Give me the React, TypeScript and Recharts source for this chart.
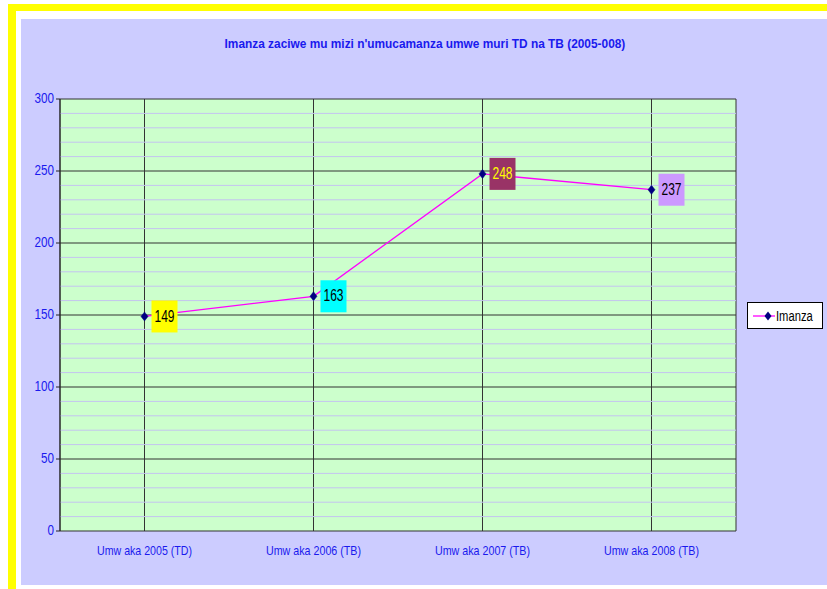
import React from 'react';
import { LineChart, Line, XAxis, YAxis, CartesianGrid, ReferenceLine, LabelList } from 'recharts';

const categories = ['Umw aka 2005 (TD)', 'Umw aka 2006 (TB)', 'Umw aka 2007 (TB)', 'Umw aka 2008 (TB)'];
const imanza = [149, 163, 248, 237];
const yTicks = [0, 50, 100, 150, 200, 250, 300];
const minorTicks = [10, 20, 30, 40, 60, 70, 80, 90, 110, 120, 130, 140, 160, 170, 180, 190, 210, 220, 230, 240, 260, 270, 280, 290];
const boundaryTicks = [0, 1, 2, 3, 4];
const title = "Imanza zaciwe mu mizi n'umucamanza umwe muri TD na TB (2005-008)";
const seriesName = 'Imanza';

const labelBg = ['#ffff00', '#00ffff', '#993366', '#cc99ff'];
const labelFg = ['#000000', '#000000', '#ffff00', '#000000'];

const data = categories.map((c, i) => ({ name: c, value: imanza[i] }));

const FONT = '"Liberation Sans", Arial, sans-serif';

const Diamond = (props: any) => {
  const { cx, cy } = props;
  if (cx == null || cy == null) return null;
  return <polygon points={`${cx},${cy - 4.5} ${cx + 3.5},${cy} ${cx},${cy + 4.5} ${cx - 3.5},${cy}`} fill="#000080" stroke="#000080" strokeWidth={0.5} />;
};

const ValueLabel = (props: any) => {
  const { x, y, value, index } = props;
  return (
    <g>
      <rect x={x + 7} y={y - 16} width={26} height={32} fill={labelBg[index]} />
      <text x={x + 20} y={y + 1} textAnchor="middle" dominantBaseline="middle" fontFamily={FONT} fontSize={16} fill={labelFg[index]} textLength={20} lengthAdjust="spacingAndGlyphs">
        {value}
      </text>
    </g>
  );
};

const XTick = (props: any) => {
  const { x, y, payload } = props;
  return (
    <text x={x} y={y + 16} textAnchor="middle" fontFamily={FONT} fontSize={13} fill="#1a1aee" textLength={95} lengthAdjust="spacingAndGlyphs">
      {payload.value}
    </text>
  );
};

const YTick = (props: any) => {
  const { x, y, payload } = props;
  return (
    <text x={x} y={y} textAnchor="end" dominantBaseline="middle" fontFamily={FONT} fontSize={14} fill="#1a1aee" textLength={String(payload.value).length * 6.5} lengthAdjust="spacingAndGlyphs">
      {payload.value}
    </text>
  );
};

const LegendBox = () => (
  <div style={{ position: 'absolute', left: 747, top: 302, width: 76, height: 27, border: '1px solid #000', background: '#fff', boxSizing: 'border-box', display: 'flex', alignItems: 'center', fontFamily: FONT, fontSize: 14 }}>
    <svg width={34} height={12} style={{ marginLeft: 4 }}>
      <line x1={1} y1={6} x2={31} y2={6} stroke="#ff00ff" strokeWidth={1.3} />
      <polygon points="16,1.5 19.5,6 16,10.5 12.5,6" fill="#000080" />
    </svg>
    <span style={{ marginLeft: 1, color: '#000', display: 'inline-block', transform: 'scaleX(0.8)', transformOrigin: 'left center' }}>{seriesName}</span>
  </div>
);

export default function App() {
  return (
    <div style={{ position: 'absolute', left: 0, top: 0, width: 827, height: 589, background: '#fff', overflow: 'hidden' }}>
      <div style={{ position: 'absolute', left: 8, top: 4, width: 900, height: 700, borderTop: '7px solid #ffff00', borderLeft: '8px solid #ffff00', background: '#fff' }} />
      <div style={{ position: 'absolute', left: 21, top: 19, width: 806, height: 566, background: '#ccccff' }} />
      <div style={{ position: 'absolute', left: 21, top: 37, width: 808, textAlign: 'center', fontFamily: FONT, fontWeight: 'bold', fontSize: 12.5, color: '#1a1aee' }}>
        <span style={{ display: 'inline-block', transform: 'scaleX(0.95)' }}>{title}</span>
      </div>
      <div style={{ position: 'absolute', left: 0, top: 0 }}>
        <LineChart width={827} height={589} data={data} margin={{ top: 99, right: 91, bottom: 28, left: 20 }}>
          <CartesianGrid fill="#ccffcc" stroke="#333333" horizontal={false} vertical={true} />
          {minorTicks.map((v) => (
            <ReferenceLine key={v} y={v} stroke="#c4c4f0" strokeWidth={1} />
          ))}
          <CartesianGrid fill="none" stroke="#333333" horizontal={true} vertical={false} />
          <XAxis xAxisId="b" type="number" domain={[0, 4]} ticks={boundaryTicks} height={0} axisLine={{ stroke: '#444444', strokeWidth: 2 }} tickLine={{ stroke: '#222' }} tickSize={5} tick={() => <g />} />
          <XAxis dataKey="name" scale="band" height={30} axisLine={false} tickLine={false} tick={<XTick />} interval={0} />
          <XAxis xAxisId="t" orientation="top" type="number" domain={[0, 1]} height={0} tick={false} tickLine={false} axisLine={{ stroke: '#888888' }} />
          <YAxis domain={[0, 300]} ticks={yTicks} width={40} axisLine={{ stroke: '#222222' }} tickLine={{ stroke: '#222222' }} tickSize={4} tick={<YTick />} interval={0} />
          <YAxis yAxisId="r" orientation="right" type="number" domain={[0, 1]} width={0} tick={false} tickLine={false} axisLine={{ stroke: '#555555' }} />
          <Line type="linear" dataKey="value" name={seriesName} stroke="#ff00ff" strokeWidth={1.3} dot={<Diamond />} activeDot={false} isAnimationActive={false}>
            <LabelList dataKey="value" content={<ValueLabel />} />
          </Line>
        </LineChart>
      </div>
      <LegendBox />
    </div>
  );
}
